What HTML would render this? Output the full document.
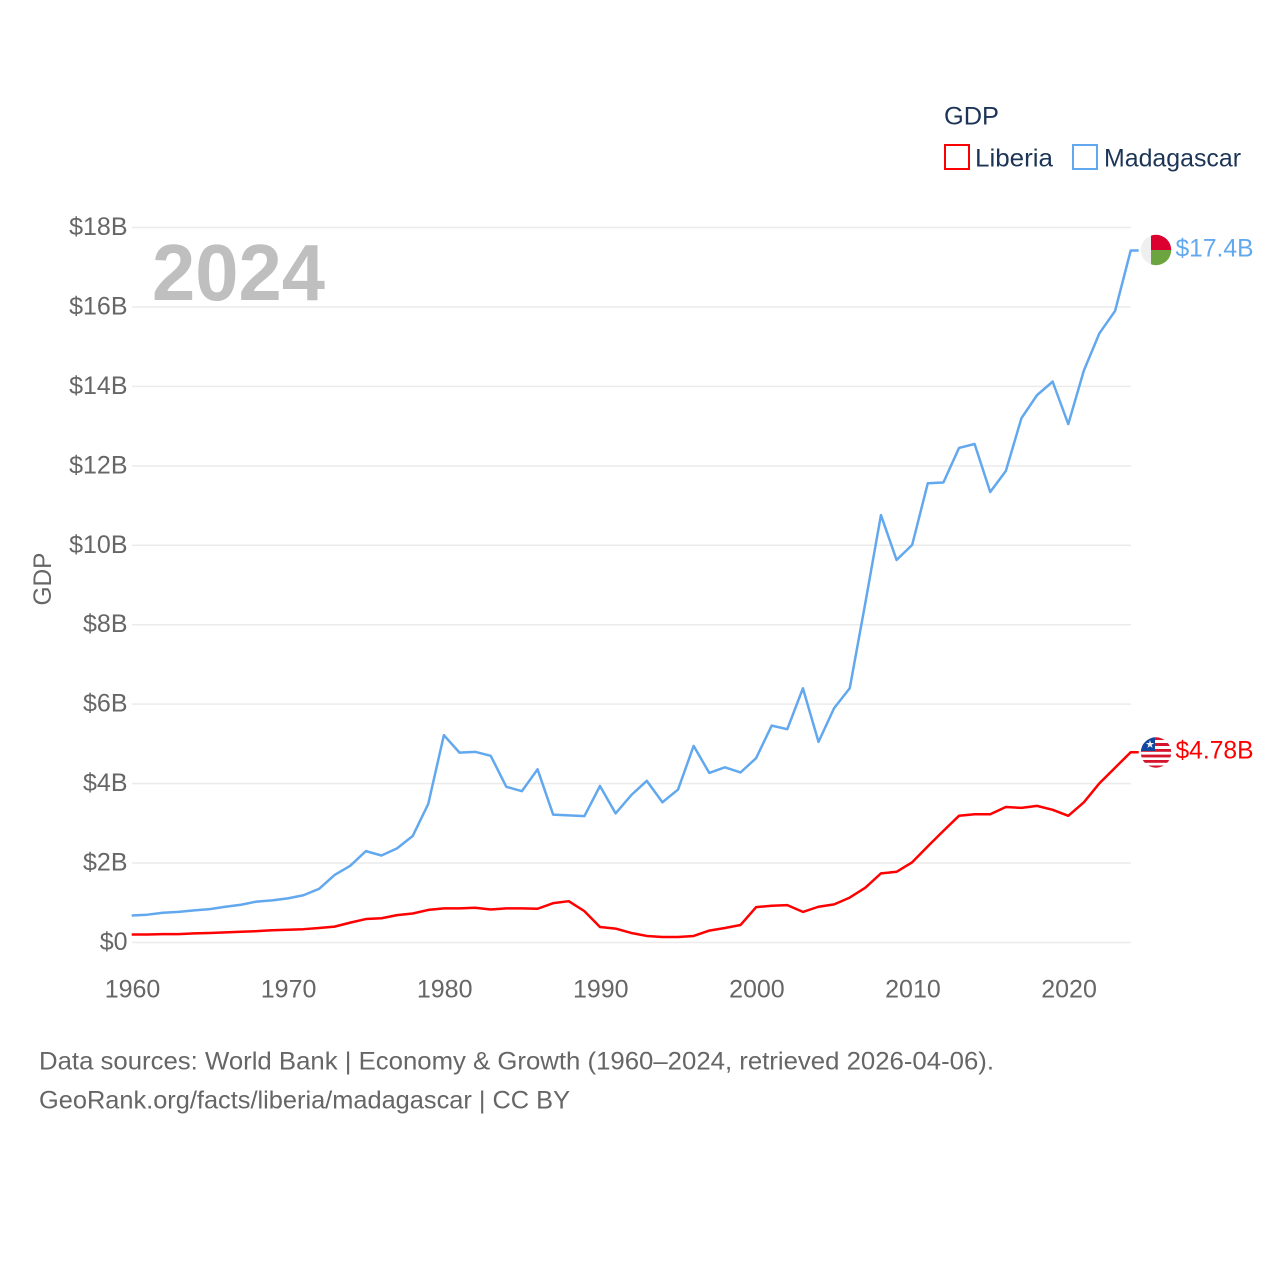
<!DOCTYPE html>
<html lang="en">
<head>
<meta charset="utf-8">
<title>GDP: Liberia and Madagascar</title>
<style>
html,body{margin:0;padding:0;background:#fff;width:1280px;height:1280px;overflow:hidden}
svg{display:block}
text{font-family:"Liberation Sans",sans-serif}
</style>
</head>
<body>
<svg id="chart" xmlns="http://www.w3.org/2000/svg" width="1280" height="1280" viewBox="0 0 1280 1280">
  <defs>
    <clipPath id="clip-mg"><circle cx="1156" cy="250" r="15.2"/></clipPath>
    <clipPath id="clip-lr"><circle cx="1156" cy="752.5" r="15.2"/></clipPath>
  </defs>
  <rect x="0" y="0" width="1280" height="1280" fill="#fff"/>
  <g id="grid"></g>
  <g id="yticks"></g>
  <g id="xticks"></g>
  <text transform="translate(51,579) rotate(-90)" text-anchor="middle" font-size="25" fill="#666" textLength="53" lengthAdjust="spacingAndGlyphs">GDP</text>
  <text x="152" y="300" font-size="80" font-weight="bold" fill="#bfbfbf" textLength="173" lengthAdjust="spacingAndGlyphs">2024</text>
  <g id="series"></g>

  <g clip-path="url(#clip-mg)">
    <rect x="1140" y="234" width="11" height="32" fill="#efefef"/>
    <rect x="1151" y="234" width="21" height="16" fill="#dc0030"/>
    <rect x="1151" y="250" width="21" height="16" fill="#6ca53f"/>
  </g>
  <g clip-path="url(#clip-lr)">
    <rect x="1140" y="737" width="32" height="32" fill="#fff"/>
    <rect x="1140" y="737" width="32" height="3" fill="#d5142e"/>
    <rect x="1140" y="743" width="32" height="3" fill="#d5142e"/>
    <rect x="1140" y="749" width="32" height="2.8" fill="#d5142e"/>
    <rect x="1140" y="754.6" width="32" height="2.8" fill="#d5142e"/>
    <rect x="1140" y="760" width="32" height="2.8" fill="#d5142e"/>
    <rect x="1140" y="765.5" width="32" height="3.5" fill="#d5142e"/>
    <rect x="1140" y="737" width="15" height="14" fill="#0f47a1"/>
    <polygon points="1150,740 1151,743 1154.2,743 1151.6,744.9 1152.6,748 1150,746.1 1147.4,748 1148.4,744.9 1145.8,743 1149,743" fill="#f2f2f2"/>
  </g>

  <text x="1175.5" y="256.5" font-size="25" fill="#62a8ee" textLength="78" lengthAdjust="spacingAndGlyphs">$17.4B</text>
  <text x="1175.5" y="758.5" font-size="25" fill="#ff0000" textLength="78" lengthAdjust="spacingAndGlyphs">$4.78B</text>

  <g>
    <text x="944" y="124.5" font-size="25" fill="#1c3557" textLength="55" lengthAdjust="spacingAndGlyphs">GDP</text>
    <g>
      <rect x="945" y="145" width="24" height="24" fill="#fff" stroke="#ff0000" stroke-width="2"/>
      <text x="975" y="166.5" font-size="25" fill="#1c3557" textLength="78" lengthAdjust="spacingAndGlyphs">Liberia</text>
    </g>
    <g>
      <rect x="1073" y="145" width="24" height="24" fill="#fff" stroke="#62a8ee" stroke-width="2"/>
      <text x="1104" y="166.5" font-size="25" fill="#1c3557" textLength="137" lengthAdjust="spacingAndGlyphs">Madagascar</text>
    </g>
  </g>

  <text x="39" y="1069.5" font-size="25" fill="#666" textLength="955" lengthAdjust="spacingAndGlyphs">Data sources: World Bank | Economy &amp; Growth (1960–2024, retrieved 2026-04-06).</text>
  <text x="39" y="1108.5" font-size="25" fill="#666" textLength="531" lengthAdjust="spacingAndGlyphs">GeoRank.org/facts/liberia/madagascar | CC BY</text>
</svg>
<script>
const years = [1960,1961,1962,1963,1964,1965,1966,1967,1968,1969,1970,1971,1972,1973,1974,1975,1976,1977,1978,1979,1980,1981,1982,1983,1984,1985,1986,1987,1988,1989,1990,1991,1992,1993,1994,1995,1996,1997,1998,1999,2000,2001,2002,2003,2004,2005,2006,2007,2008,2009,2010,2011,2012,2013,2014,2015,2016,2017,2018,2019,2020,2021,2022,2023,2024];
const madagascar = [0.68,0.70,0.75,0.77,0.81,0.84,0.90,0.95,1.03,1.06,1.11,1.19,1.35,1.70,1.93,2.30,2.19,2.37,2.68,3.49,5.22,4.78,4.80,4.70,3.92,3.81,4.36,3.22,3.20,3.18,3.94,3.25,3.71,4.07,3.53,3.85,4.95,4.27,4.41,4.28,4.64,5.46,5.37,6.40,5.05,5.90,6.40,8.55,10.76,9.63,10.01,11.56,11.58,12.45,12.55,11.34,11.87,13.20,13.78,14.12,13.05,14.40,15.34,15.90,17.42];
const liberia = [0.20,0.20,0.21,0.21,0.23,0.24,0.255,0.27,0.285,0.31,0.32,0.335,0.365,0.40,0.50,0.59,0.61,0.69,0.73,0.82,0.86,0.86,0.875,0.83,0.86,0.86,0.85,0.99,1.04,0.79,0.39,0.35,0.24,0.165,0.14,0.14,0.165,0.30,0.365,0.44,0.89,0.925,0.94,0.77,0.90,0.96,1.13,1.38,1.74,1.78,2.02,2.42,2.81,3.19,3.23,3.23,3.41,3.39,3.44,3.34,3.19,3.53,4.01,4.40,4.79];
const yTickValues = [0,2,4,6,8,10,12,14,16,18];
const yTickLabels = ["$0","$2B","$4B","$6B","$8B","$10B","$12B","$14B","$16B","$18B"];
const xTickValues = [1960,1970,1980,1990,2000,2010,2020];
const xTickLabels = ["1960","1970","1980","1990","2000","2010","2020"];

const NS = "http://www.w3.org/2000/svg";
const plot = {left:131.7, right:1130.7, top:227.5, bottom:942.5};
const xDomain = [1960, 2024];
const yDomain = [0, 18];
function xScale(v){ return plot.left + (v - xDomain[0]) / (xDomain[1] - xDomain[0]) * (plot.right - plot.left); }
function yScale(v){ return plot.bottom - (v - yDomain[0]) / (yDomain[1] - yDomain[0]) * (plot.bottom - plot.top); }
function make(tag, attrs, text){
  const el = document.createElementNS(NS, tag);
  for (const k in attrs) el.setAttribute(k, attrs[k]);
  if (text !== undefined) el.textContent = text;
  return el;
}
const gridG = document.getElementById('grid');
const yG = document.getElementById('yticks');
const xG = document.getElementById('xticks');
const seriesG = document.getElementById('series');

yTickValues.forEach(function(v, i){
  const line = make('line', {x1:132, x2:1131, y1:yScale(v), y2:yScale(v), stroke:'#ebebeb', 'stroke-width':1.5});
  
  
  gridG.appendChild(line);
  const label = make('text', {x:127.5, y:yScale(v) + 7.5, 'text-anchor':'end', 'font-size':25, fill:'#666'}, yTickLabels[i]);
  
  
  yG.appendChild(label);
});
xTickValues.forEach(function(v, i){
  const label = make('text', {x:xScale(v) + 0.8, y:997.5, 'text-anchor':'middle', 'font-size':25, fill:'#666'}, xTickLabels[i]);
  
  
  xG.appendChild(label);
});
function drawSeries(values, color){
  const pts = values.map(function(v, i){ return xScale(years[i]).toFixed(2) + ',' + yScale(v).toFixed(2); });
  const last = values[values.length - 1];
  pts.push((xScale(years[years.length - 1]) + 8).toFixed(2) + ',' + yScale(last).toFixed(2));
  return make('polyline', {points:pts.join(' '), fill:'none', stroke:color, 'stroke-width':2.5, 'stroke-linejoin':'round'});
}
const lineMadagascar = drawSeries(madagascar, '#62a8ee');


seriesG.appendChild(lineMadagascar);
const lineLiberia = drawSeries(liberia, '#ff0000');


seriesG.appendChild(lineLiberia);
</script>
</body>
</html>
